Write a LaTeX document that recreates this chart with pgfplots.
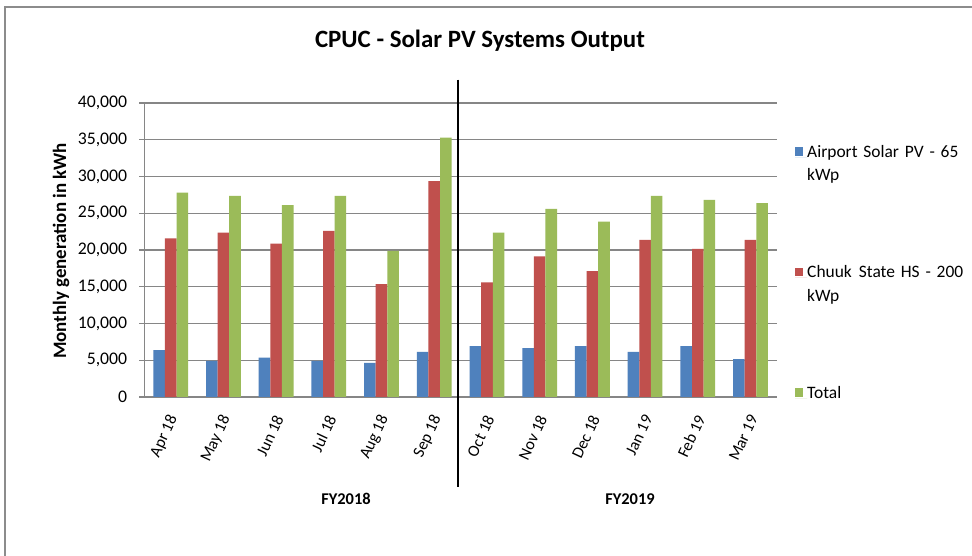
\documentclass[border=0pt]{standalone}
\usepackage{pgfplots}
\pgfplotsset{compat=1.18}
\usepackage{fontspec}
\setmainfont{Carlito}
\newfontfamily\lin{Carlito}
\definecolor{cblue}{RGB}{79,129,189}
\definecolor{cred}{RGB}{192,80,77}
\definecolor{cgreen}{RGB}{155,187,89}
\definecolor{cgrid}{RGB}{134,134,134}
\definecolor{cborder}{RGB}{140,140,140}
\pgfplotsset{sqlegend/.style={legend image code/.code={\fill[##1] (0bp,1.5bp) rectangle (7.5bp,10bp); \path (0bp,0bp) -- (12bp,0bp);}}}
\begin{document}
\begin{tikzpicture}[x=1bp,y=1bp]
\useasboundingbox (0,0) rectangle (972,556);
\fill[white] (0,0) rectangle (972,556);
\draw[cborder, line width=1.6bp] (5,0) -- (5,549) -- (972,549);
\node[anchor=base, font=\bfseries\fontsize{25}{29}\selectfont] at (480,508.7) {CPUC - Solar PV Systems Output};
\begin{axis}[
  at={(144.35bp,159bp)}, anchor=south west,
  scale only axis, width=632.5bp, height=294bp,
  ybar=0pt, bar width=11.6bp,
  xmin=-0.5, xmax=11.5, ymin=0, ymax=40000,
  xtick={0,...,11},
  xticklabels={Apr 18,May 18,Jun 18,Jul 18,Aug 18,Sep 18,Oct 18,Nov 18,Dec 18,Jan 19,Feb 19,Mar 19},
  ytick={0,5000,...,40000},
  scaled y ticks=false,
  /pgf/number format/.cd, 1000 sep={,}, assume math mode=true, /pgfplots/.cd,
  axis x line*=bottom, axis y line*=left,
  axis line style={cgrid, line width=1.2bp, -},
  ymajorgrids, grid style={cgrid, line width=1.2bp},
  tick align=outside, major tick length=5bp,
  ytick style={cgrid, line width=1.2bp},
  xtick style={draw=none},
  yticklabel style={font=\lin\fontsize{17.8}{20}\selectfont, inner sep=0pt, xshift=-12bp},
  xticklabel style={font=\fontsize{16.5}{19}\selectfont, inner sep=0pt, yshift=-14bp, xshift=3bp, rotate=65, anchor=east},
  clip=false,
  legend style={at={(1.0287,0.857)}, anchor=north west, draw=none, fill=none, inner sep=0pt,
     row sep=82bp, cells={anchor=base west},
     nodes={inner sep=0pt, text depth=, text width=170bp, align=left, font=\fontsize{17.5}{23.7}\selectfont}},
  sqlegend,
]
\addplot[fill=cblue, draw=none, sqlegend] coordinates {(0,6364) (1,4909) (2,5364) (3,4909) (4,4636) (5,6136) (6,6909) (7,6636) (8,6909) (9,6136) (10,6909) (11,5136)};
\addplot[fill=cred, draw=none, sqlegend] coordinates {(0,21590) (1,22364) (2,20864) (3,22591) (4,15364) (5,29364) (6,15591) (7,19136) (8,17136) (9,21364) (10,20136) (11,21364)};
\addplot[fill=cgreen, draw=none, sqlegend] coordinates {(0,27818) (1,27364) (2,26091) (3,27364) (4,19864) (5,35300) (6,22364) (7,25591) (8,23864) (9,27364) (10,26818) (11,26364)};
\legend{Airport Solar PV - 65\\kWp, Chuuk\hspace{7bp}State HS - 200\\kWp, Total}
\draw[black, line width=1.3bp] (axis cs:5.45,43190) -- (axis cs:5.45,-12262);
\end{axis}
\node[anchor=base, font=\bfseries\fontsize{16.5}{19}\selectfont] at (346,51) {FY2018};
\node[anchor=base, font=\bfseries\fontsize{16.5}{19}\selectfont] at (630,51) {FY2019};
\node[anchor=base, rotate=90, font=\bfseries\fontsize{19}{22}\selectfont] at (66,305) {Monthly generation in kWh};
\end{tikzpicture}
\end{document}
